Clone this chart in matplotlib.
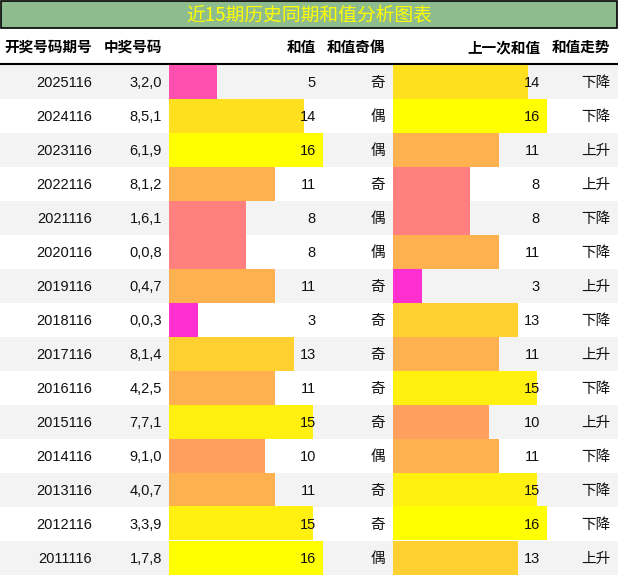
import matplotlib.pyplot as plt
import matplotlib.colors as mcolors
import numpy as np

plt.rcParams['font.family'] = ['Liberation Sans', 'Noto Sans CJK SC', 'DejaVu Sans']

title = '近15期历史同期和值分析图表'
headers = ['开奖号码期号', '中奖号码', '和值', '和值奇偶', '上一次和值', '和值走势']

periods = ['2025116', '2024116', '2023116', '2022116', '2021116', '2020116', '2019116',
           '2018116', '2017116', '2016116', '2015116', '2014116', '2013116', '2012116', '2011116']
numbers = ['3,2,0', '8,5,1', '6,1,9', '8,1,2', '1,6,1', '0,0,8', '0,4,7',
           '0,0,3', '8,1,4', '4,2,5', '7,7,1', '9,1,0', '4,0,7', '3,3,9', '1,7,8']
sums = [5, 14, 16, 11, 8, 8, 11, 3, 13, 11, 15, 10, 11, 15, 16]
parity = ['奇', '偶', '偶', '奇', '偶', '偶', '奇', '奇', '奇', '奇', '奇', '偶', '奇', '奇', '偶']
prev_sums = [14, 16, 11, 8, 8, 11, 3, 13, 11, 15, 10, 11, 15, 16, 13]
trend = ['下降', '下降', '上升', '上升', '下降', '下降', '上升', '下降', '上升', '下降',
         '上升', '下降', '下降', '下降', '上升']

W, H = 618, 576
top, row_h = 64.5, 34
n = len(periods)

fig = plt.figure(figsize=(W / 100, H / 100), dpi=100)

# background: title bar, header, striped rows
bg = fig.add_axes([0, 0, 1, 1], zorder=0)
bg.set_xlim(0, W)
bg.set_ylim(H, 0)
bg.axis('off')
bg.add_patch(plt.Rectangle((0.5, 0.5), W - 1.5, 27.5, facecolor='darkseagreen',
                           edgecolor='black', lw=1.2))
for i in range(n):
    if i % 2 == 0:
        bg.add_patch(plt.Rectangle((0, top + i * row_h), W, row_h,
                                   facecolor='#f3f3f3', edgecolor='none'))
bg.plot([0, W], [top - 0.5, top - 0.5], color='black', lw=1.5)

# bar columns, coloured magenta -> yellow by value
cmap = plt.get_cmap('spring')
norm = mcolors.Normalize(0, 16)


def bar_axes(x0, vals):
    a = fig.add_axes([x0 / W, (H - top - n * row_h) / H, 154 / W, n * row_h / H], zorder=1)
    a.set_xlim(0, 16)
    a.set_ylim(n - 0.5, -0.5)
    a.barh(np.arange(n), vals, height=1.0, color=cmap(norm(np.array(vals))))
    a.axis('off')
    a.patch.set_visible(False)
    return a


bar_axes(169, sums)
bar_axes(393, prev_sums)

# text layer
tx = fig.add_axes([0, 0, 1, 1], zorder=2)
tx.set_xlim(0, W)
tx.set_ylim(H, 0)
tx.axis('off')
tx.patch.set_visible(False)

tx.text(309, 15, title, ha='center', va='center', fontsize=13.5, color='#ffff00',
        family=['Noto Sans CJK SC', 'DejaVu Sans'])

col_x = [92, 162, 316, 385, 540, 610]
for x, h in zip(col_x, headers):
    tx.text(x, 52, h, ha='right', va='baseline', fontsize=10.5, fontweight='bold',
            family=['Noto Sans CJK SC', 'DejaVu Sans'])

for i in range(n):
    y = top + i * row_h + row_h / 2 + 5.5
    row = [periods[i], numbers[i], str(sums[i]), parity[i], str(prev_sums[i]), trend[i]]
    for x, s in zip(col_x, row):
        tx.text(x, y, s, ha='right', va='baseline', fontsize=10.5, color='#111111')

fig.savefig('out.png', dpi=100)
